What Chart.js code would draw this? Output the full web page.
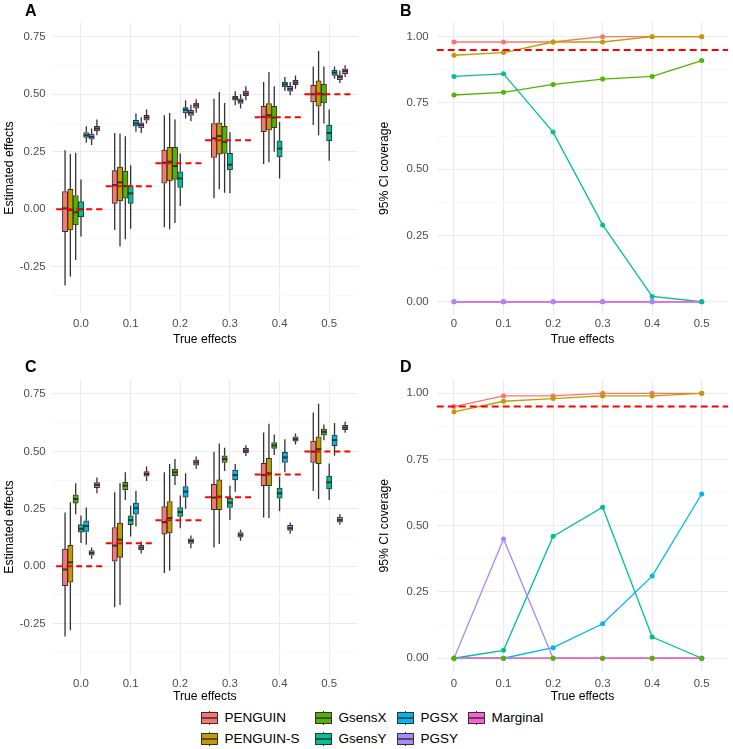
<!DOCTYPE html>
<html>
<head>
<meta charset="utf-8">
<script src="https://cdn.jsdelivr.net/npm/chart.js@4.4.0/dist/chart.umd.min.js"></script>
<style>
  html, body { margin: 0; padding: 0; background: #fff; }
  #wrap { position: relative; width: 733px; height: 749px; font-family: "Liberation Sans", Arial, sans-serif; }
  .pane { position: absolute; }
  .tag { position: absolute; font-weight: bold; font-size: 16px; line-height: 16px; color: #000; }
  .key { position: absolute; height: 14px; }
  .key span { position: absolute; top: -1px; font-size: 13.5px; line-height: 16px; white-space: nowrap; color: #000; }
</style>
</head>
<body>
<div id="wrap">
  <div class="pane" style="left:0;top:0;width:366px;height:350px"><canvas id="boxA"></canvas></div>
  <div class="pane" style="left:366px;top:0;width:367px;height:350px"><canvas id="covB"></canvas></div>
  <div class="pane" style="left:0;top:360px;width:366px;height:346px"><canvas id="boxC"></canvas></div>
  <div class="pane" style="left:366px;top:360px;width:367px;height:346px"><canvas id="covD"></canvas></div>
  <div class="tag" style="left:25px;top:3px">A</div>
  <div class="tag" style="left:400px;top:3px">B</div>
  <div class="tag" style="left:25px;top:359px">C</div>
  <div class="tag" style="left:400px;top:359px">D</div>
  <div id="legend"></div>
</div>
<script>
const effects = [0, 0.1, 0.2, 0.3, 0.4, 0.5];
const methods = ['PENGUIN', 'PENGUIN-S', 'GsensX', 'GsensY', 'PGSX', 'PGSY', 'Marginal'];
const boxTickLabels = ['0.0', '0.1', '0.2', '0.3', '0.4', '0.5'];
const lineTickLabels = ['0', '0.1', '0.2', '0.3', '0.4', '0.5'];
const effectTicks = [-0.25, 0, 0.25, 0.5, 0.75];
const effectTickLabels = ['-0.25', '0.00', '0.25', '0.50', '0.75'];
const coverageTicks = [0, 0.25, 0.5, 0.75, 1];
const coverageTickLabels = ['0.00', '0.25', '0.50', '0.75', '1.00'];
const nominalCoverage = 0.95;

// box stats per true effect: [lower whisker, Q1, median, Q3, upper whisker]
const A_PENGUIN   = [[-0.331,-0.097,0.004,0.077,0.257],[-0.090,0.026,0.105,0.168,0.332],[-0.078,0.113,0.202,0.257,0.409],[0.048,0.225,0.308,0.373,0.481],[0.197,0.337,0.402,0.448,0.553],[0.366,0.467,0.500,0.539,0.621]];
const A_PENGUIN_S = [[-0.292,-0.090,-0.003,0.087,0.240],[-0.162,0.036,0.117,0.184,0.330],[-0.087,0.123,0.207,0.269,0.419],[0.087,0.240,0.318,0.376,0.510],[0.204,0.344,0.409,0.460,0.597],[0.322,0.448,0.503,0.558,0.688]];
const A_GsensX    = [[-0.220,-0.068,-0.013,0.060,0.246],[-0.130,0.048,0.101,0.166,0.318],[-0.060,0.130,0.188,0.269,0.390],[0.072,0.243,0.293,0.361,0.462],[0.250,0.355,0.399,0.448,0.535],[0.373,0.462,0.500,0.543,0.621]];
const A_GsensY    = [[-0.118,-0.032,0.000,0.033,0.130],[-0.085,0.026,0.069,0.103,0.192],[0.014,0.095,0.134,0.163,0.243],[0.070,0.171,0.194,0.243,0.335],[0.134,0.228,0.264,0.298,0.380],[0.211,0.298,0.332,0.366,0.434]];
const A_PGSX      = [[0.289,0.312,0.322,0.334,0.361],[0.337,0.361,0.373,0.387,0.416],[0.395,0.419,0.433,0.442,0.474],[0.452,0.474,0.483,0.491,0.513],[0.514,0.532,0.543,0.553,0.575],[0.568,0.582,0.594,0.604,0.621]];
const A_PGSY      = [[0.279,0.305,0.315,0.327,0.351],[0.332,0.354,0.366,0.376,0.400],[0.383,0.408,0.420,0.430,0.455],[0.438,0.460,0.470,0.480,0.500],[0.496,0.514,0.524,0.535,0.553],[0.549,0.564,0.575,0.585,0.604]];
const A_Marginal  = [[0.322,0.341,0.351,0.361,0.390],[0.373,0.387,0.399,0.409,0.434],[0.420,0.440,0.452,0.462,0.478],[0.474,0.494,0.503,0.514,0.535],[0.524,0.542,0.551,0.561,0.582],[0.575,0.590,0.601,0.611,0.626]];

const C_PENGUIN   = [[-0.306,-0.084,-0.014,0.075,0.234],[-0.178,0.022,0.090,0.169,0.322],[-0.029,0.140,0.192,0.260,0.409],[0.082,0.246,0.299,0.357,0.499],[0.212,0.351,0.397,0.448,0.582],[0.328,0.452,0.499,0.545,0.669]];
const C_PENGUIN_S = [[-0.279,-0.069,0.017,0.091,0.279],[-0.169,0.039,0.116,0.188,0.361],[-0.019,0.145,0.210,0.282,0.445],[0.097,0.246,0.303,0.376,0.535],[0.210,0.351,0.405,0.470,0.621],[0.293,0.447,0.510,0.564,0.708]];
const C_GsensX    = [[0.227,0.275,0.293,0.311,0.361],[0.289,0.332,0.351,0.366,0.409],[0.354,0.395,0.409,0.423,0.467],[0.415,0.452,0.467,0.481,0.516],[0.484,0.513,0.526,0.539,0.574],[0.549,0.571,0.585,0.597,0.617]];
const C_GsensY    = [[0.101,0.149,0.163,0.181,0.221],[0.130,0.181,0.201,0.220,0.263],[0.166,0.217,0.236,0.256,0.308],[0.202,0.256,0.277,0.296,0.351],[0.241,0.296,0.318,0.340,0.390],[0.289,0.337,0.366,0.393,0.448]];
const C_PGSX      = [[0.094,0.152,0.175,0.198,0.256],[0.173,0.227,0.253,0.275,0.328],[0.250,0.301,0.325,0.347,0.405],[0.325,0.376,0.397,0.419,0.445],[0.409,0.452,0.474,0.496,0.553],[0.481,0.525,0.549,0.571,0.624]];
const C_PGSY      = [[0.033,0.048,0.058,0.068,0.082],[0.056,0.071,0.081,0.091,0.108],[0.079,0.100,0.110,0.120,0.134],[0.111,0.127,0.137,0.147,0.159],[0.142,0.156,0.166,0.178,0.191],[0.181,0.192,0.202,0.214,0.227]];
const C_Marginal  = [[0.318,0.342,0.354,0.364,0.386],[0.371,0.392,0.402,0.412,0.434],[0.425,0.440,0.452,0.462,0.478],[0.480,0.494,0.503,0.513,0.527],[0.530,0.545,0.553,0.564,0.578],[0.581,0.595,0.604,0.614,0.629]];

// 95% CI coverage per true effect
const B_PENGUIN   = [0.98, 0.98, 0.98, 1.00, 1.00, 1.00];
const B_PENGUIN_S = [0.93, 0.94, 0.98, 0.98, 1.00, 1.00];
const B_GsensX    = [0.78, 0.79, 0.82, 0.84, 0.85, 0.91];
const B_GsensY    = [0.85, 0.86, 0.64, 0.29, 0.02, 0.00];
const B_PGSX      = [0, 0, 0, 0, 0, 0];
const B_PGSY      = [0, 0, 0, 0, 0, 0];
const B_Marginal  = [0, 0, 0, 0, 0, 0];

const D_PENGUIN   = [0.95, 0.99, 0.99, 1.00, 1.00, 1.00];
const D_PENGUIN_S = [0.93, 0.97, 0.98, 0.99, 0.99, 1.00];
const D_GsensX    = [0, 0, 0, 0, 0, 0];
const D_GsensY    = [0.00, 0.03, 0.46, 0.57, 0.08, 0.00];
const D_PGSX      = [0.00, 0.00, 0.04, 0.13, 0.31, 0.62];
const D_PGSY      = [0.00, 0.45, 0.00, 0.00, 0.00, 0.00];
const D_Marginal  = [0, 0, 0, 0, 0, 0];

const palette = ['#F8766D', '#C49A00', '#53B400', '#00C094', '#00B6EB', '#A58AFF', '#FB61D7'];
const outline = '#333333';
const dodge = 0.0107;

Chart.defaults.font.family = '"Liberation Sans", Arial, sans-serif';
Chart.defaults.animation = false;

function gridValues(majors, lo, hi) {
  const half = (majors[1] - majors[0]) / 2;
  const out = [];
  for (let v = majors[0] - 2 * half; v <= majors[majors.length - 1] + 2 * half + 1e-9; v += half) {
    if (v >= lo - 1e-9 && v <= hi + 1e-9) out.push(+v.toFixed(4));
  }
  return out;
}
const near = (a, b) => Math.abs(a - b) < 1e-6;

function valueAxis(min, max, majors, labels, title, width, titlePad, tickPad) {
  const isMajor = v => majors.some(m => near(m, v));
  return {
    type: 'linear', min, max,
    afterBuildTicks: s => { s.ticks = gridValues(majors, min, max).map(v => ({value: v})); },
    afterFit: s => { s.width = width; },
    border: {display: false},
    grid: {
      drawTicks: false,
      color: c => (c.tick && isMajor(c.tick.value)) ? '#EBEBEB' : '#F5F5F5',
      lineWidth: c => (c.tick && isMajor(c.tick.value)) ? 1.1 : 0.7
    },
    ticks: {
      autoSkip: false, padding: tickPad, color: '#4D4D4D', font: {size: 11.4},
      callback: v => { const k = majors.findIndex(m => near(m, v)); return k < 0 ? '' : labels[k]; }
    },
    title: {display: true, text: title, color: '#000', font: {size: 12.2}, padding: {top: titlePad, bottom: 0}}
  };
}

function effectAxis(min, max, labels, height, tickPad, titlePad) {
  return {
    type: 'linear', min, max, offset: false,
    afterBuildTicks: s => { s.ticks = effects.map(v => ({value: v})); },
    afterFit: s => { s.height = height; },
    border: {display: false},
    grid: {drawTicks: false, offset: false, color: '#EBEBEB', lineWidth: 1.1},
    ticks: {autoSkip: false, maxRotation: 0, padding: tickPad, color: '#4D4D4D', font: {size: 11.4},
      callback: (v, i) => labels[i]},
    title: {display: true, text: 'True effects', color: '#000', font: {size: 12.2}, padding: {top: 0, bottom: titlePad}}
  };
}

// whiskers under the boxes, median bars right after each box dataset
const boxplotPlugin = {
  id: 'boxplot',
  beforeDatasetsDraw(chart) {
    const y = chart.scales.y, ctx = chart.ctx;
    ctx.save();
    ctx.strokeStyle = outline;
    ctx.lineWidth = 1.3;
    chart.data.datasets.forEach((ds, di) => {
      if (!ds.stats) return;
      chart.getDatasetMeta(di).data.forEach((el, j) => {
        const s = ds.stats[j];
        ctx.beginPath();
        ctx.moveTo(el.x, y.getPixelForValue(s[4]));
        ctx.lineTo(el.x, y.getPixelForValue(s[3]));
        ctx.moveTo(el.x, y.getPixelForValue(s[1]));
        ctx.lineTo(el.x, y.getPixelForValue(s[0]));
        ctx.stroke();
      });
    });
    ctx.restore();
  },
  afterDatasetDraw(chart, args) {
    const ds = chart.data.datasets[args.index];
    if (!ds.stats) return;
    const y = chart.scales.y, ctx = chart.ctx;
    ctx.save();
    ctx.strokeStyle = outline;
    ctx.lineWidth = 2;
    args.meta.data.forEach((el, j) => {
      const py = y.getPixelForValue(ds.stats[j][2]);
      ctx.beginPath();
      ctx.moveTo(el.x - el.width / 2, py);
      ctx.lineTo(el.x + el.width / 2, py);
      ctx.stroke();
    });
    ctx.restore();
  }
};

function boxChart(id, stats, yMin, yMax, pad, xAxisHeight, tickPad, titlePad) {
  const truth = [];
  effects.forEach(e => {
    truth.push({x: e - 0.05, y: e}, {x: e + 0.05, y: e}, {x: e + 0.05, y: null});
  });
  const datasets = [{
    type: 'line', data: truth, borderColor: '#FF0000', borderWidth: 2, borderDash: [6, 4],
    pointRadius: 0, spanGaps: false, order: -1
  }];
  methods.forEach((m, i) => {
    datasets.push({
      type: 'bar', label: m, stats: stats[i],
      data: effects.map((e, j) => ({x: e + (i - 3) * dodge, y: [stats[i][j][1], stats[i][j][3]]})),
      backgroundColor: palette[i], borderColor: outline, borderWidth: 1, borderSkipped: false,
      barThickness: 5.3, grouped: false, order: 1
    });
  });
  return new Chart(document.getElementById(id), {
    type: 'bar',
    data: {datasets},
    plugins: [boxplotPlugin],
    options: {
      responsive: true, maintainAspectRatio: false,
      layout: {padding: pad},
      plugins: {legend: {display: false}, tooltip: {enabled: false}},
      scales: {
        x: effectAxis(-0.059, 0.558, boxTickLabels, xAxisHeight, tickPad, titlePad),
        y: valueAxis(yMin, yMax, effectTicks, effectTickLabels, 'Estimated effects', 51.7, 2.2, 6)
      }
    }
  });
}

function coverageChart(id, series, pointStack, pad, xAxisHeight, tickPad, titlePad, yMax) {
  const xMin = -0.0349, xMax = 0.5537;
  const datasets = [{
    type: 'line', data: [{x: xMin, y: nominalCoverage}, {x: xMax, y: nominalCoverage}],
    borderColor: '#FF0000', borderWidth: 2, borderDash: [7, 4], pointRadius: 0, order: -5
  }];
  methods.forEach((m, i) => {
    const pts = effects.map((e, j) => ({x: e, y: series[i][j]}));
    datasets.push({
      label: m, data: pts, borderColor: palette[i], borderWidth: 1.3,
      pointRadius: 0, order: 20 - i
    });
    datasets.push({
      label: m, data: pts, showLine: false, pointRadius: 2.5, pointBorderWidth: 0,
      pointBackgroundColor: palette[i], order: 10 - pointStack.indexOf(m)
    });
  });
  return new Chart(document.getElementById(id), {
    type: 'line',
    data: {datasets},
    options: {
      responsive: true, maintainAspectRatio: false,
      layout: {padding: pad},
      plugins: {legend: {display: false}, tooltip: {enabled: false}},
      scales: {
        x: effectAxis(xMin, xMax, lineTickLabels, xAxisHeight, tickPad, titlePad),
        y: valueAxis(-0.05, yMax, coverageTicks, coverageTickLabels, '95% CI coverage', 70.7, 11.7, 8)
      }
    }
  });
}

boxChart('boxA', [A_PENGUIN, A_PENGUIN_S, A_GsensX, A_GsensY, A_PGSX, A_PGSY, A_Marginal],
  -0.451, 0.81, {left: 0, top: 23, right: 8, bottom: 0}, 37, 4, 2.7);
boxChart('boxC', [C_PENGUIN, C_PENGUIN_S, C_GsensX, C_GsensY, C_PGSX, C_PGSY, C_Marginal],
  -0.469, 0.811, {left: 0, top: 20, right: 8, bottom: 0}, 32, 3, 1.7);
coverageChart('covB', [B_PENGUIN, B_PENGUIN_S, B_GsensX, B_GsensY, B_PGSX, B_PGSY, B_Marginal],
  ['PENGUIN', 'PENGUIN-S', 'GsensX', 'PGSX', 'Marginal', 'PGSY', 'GsensY'],
  {left: 0, top: 21.7, right: 4.7, bottom: 0}, 35, 2, 2.7, 1.0566);
coverageChart('covD', [D_PENGUIN, D_PENGUIN_S, D_GsensX, D_GsensY, D_PGSX, D_PGSY, D_Marginal],
  ['PENGUIN', 'PENGUIN-S', 'PGSX', 'PGSY', 'Marginal', 'GsensY', 'GsensX'],
  {left: 0, top: 20, right: 4.7, bottom: 0}, 34.5, 5.5, 1.7, 1.0502);

// legend: boxplot keys in four columns, two rows
const legendCols = [201, 315, 397, 468];
const legendRows = [711, 732];
const legend = document.getElementById('legend');
methods.forEach((m, i) => {
  const col = Math.floor(i / 2), row = i % 2;
  const key = document.createElement('div');
  key.className = 'key';
  key.style.left = legendCols[col] + 'px';
  key.style.top = legendRows[row] + 'px';
  key.innerHTML =
    '<svg width="17" height="14" style="position:absolute;left:0;top:0">' +
    '<line x1="8.5" y1="0" x2="8.5" y2="14" stroke="' + outline + '" stroke-width="1"/>' +
    '<rect x="0.5" y="1.5" width="16" height="11" fill="' + palette[i] + '" stroke="' + outline + '" stroke-width="1"/>' +
    '<line x1="0.5" y1="7" x2="16.5" y2="7" stroke="' + outline + '" stroke-width="1.5"/></svg>' +
    '<span style="left:23.5px">' + m + '</span>';
  legend.appendChild(key);
});
</script>
</body>
</html>
